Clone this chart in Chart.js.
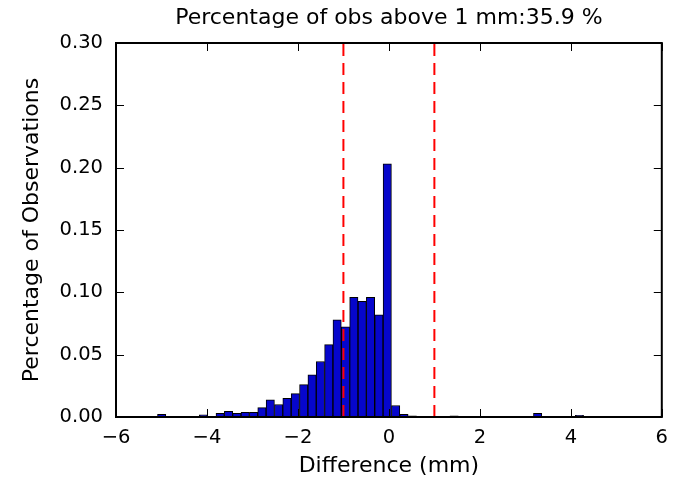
<!DOCTYPE html>
<html>
<head>
<meta charset="utf-8">
<script src="https://cdn.jsdelivr.net/npm/chart.js@4/dist/chart.umd.min.js"></script>
<style>
  html, body { margin: 0; padding: 0; background: #fff; }
  #wrap { width: 677px; height: 483px; }
</style>
</head>
<body>
<div id="wrap"><canvas id="c" width="677" height="483"></canvas></div>
<script>
// Bin centers (mm) of the histogram
const binCenters = [
  -4.996, -4.812, -4.629, -4.445, -4.261, -4.078, -3.894, -3.710, -3.526, -3.343,
  -3.159, -2.975, -2.792, -2.608, -2.424, -2.241, -2.057, -1.873, -1.689, -1.506,
  -1.322, -1.138, -0.955, -0.771, -0.587, -0.404, -0.220, -0.036, 0.148, 0.331,
  0.515, 0.699, 0.882, 1.066, 1.250, 1.434, 1.617, 1.801, 1.985, 2.168,
  2.352, 2.536, 2.719, 2.903, 3.087, 3.270, 3.454, 3.638, 3.821, 4.005,
  4.189
];
// Fraction of observations per bin
const fractions = [
  0.0022, 0, 0, 0, 0, 0.0018, 0, 0.0030, 0.0046, 0.0030,
  0.0038, 0.0038, 0.0075, 0.0137, 0.0100, 0.0150, 0.0187, 0.0260, 0.0338, 0.0445,
  0.0580, 0.0780, 0.0724, 0.0960, 0.0928, 0.0960, 0.0820, 0.2030, 0.0092, 0.0022,
  0.0010, 0, 0, 0, 0, 0.0010, 0, 0, 0, 0,
  0, 0, 0, 0, 0, 0.0030, 0, 0, 0, 0,
  0.0013
];
// Reference threshold lines (mm)
const thresholdLines = [-1, 1];
const xTicks = { min: -6, max: 6, step: 2 };
const yTicks = { min: 0, max: 0.30, step: 0.05 };
const titleText = 'Percentage of obs above 1 mm:35.9 %';
const xLabel = 'Difference (mm)';
const yLabel = 'Percentage of Observations';

const FONT = 'DejaVu Sans';
const LABEL_SIZE = 22;
const TICK_SIZE = 19.5;

const barData = binCenters.map((x, i) => ({ x: x, y: fractions[i] }));
const lineSets = thresholdLines.map(v => ({
  type: 'line',
  xAxisID: 'x',
  data: [{ x: v, y: yTicks.min }, { x: v, y: yTicks.max }],
  borderColor: '#ff0000',
  borderWidth: 2,
  borderDash: [12, 7],
  pointRadius: 0,
  fill: false,
  order: 0
}));

const frameTicks = {
  id: 'frameTicks',
  afterDraw(chart) {
    const ctx = chart.ctx;
    const a = chart.chartArea;
    const xs = chart.scales.x, ys = chart.scales.y;
    ctx.save();
    ctx.strokeStyle = '#000';
    ctx.lineWidth = 1;
    const L = 8;
    xs.ticks.forEach(t => {
      const px = Math.round(xs.getPixelForValue(t.value)) + 0.5;
      ctx.beginPath();
      ctx.moveTo(px, a.bottom); ctx.lineTo(px, a.bottom - L);
      ctx.moveTo(px, a.top); ctx.lineTo(px, a.top + L);
      ctx.stroke();
    });
    ys.ticks.forEach(t => {
      const py = Math.round(ys.getPixelForValue(t.value)) + 0.5;
      ctx.beginPath();
      ctx.moveTo(a.left, py); ctx.lineTo(a.left + L, py);
      ctx.moveTo(a.right, py); ctx.lineTo(a.right - L, py);
      ctx.stroke();
    });
    ctx.lineWidth = 2;
    ctx.strokeRect(a.left, a.top, a.right - a.left, a.bottom - a.top);
    ctx.restore();
  }
};

new Chart(document.getElementById('c'), {
  type: 'bar',
  data: {
    datasets: [
      ...lineSets,
      {
        type: 'bar',
        xAxisID: 'x',
        data: barData,
        backgroundColor: '#0606cc',
        borderColor: '#000000',
        borderWidth: 1,
        borderSkipped: false,
        barPercentage: 1.0,
        categoryPercentage: 1.0,
        order: 1
      }
    ]
  },
  options: {
    responsive: false,
    animation: false,
    layout: { padding: { left: 0, right: 11, top: 0, bottom: 0 } },
    plugins: {
      legend: { display: false },
      tooltip: { enabled: false },
      title: { display: false }
    },
    scales: {
      x: {
        type: 'linear',
        position: 'bottom',
        offset: false,
        min: xTicks.min, max: xTicks.max,
        grid: { display: false, drawTicks: false, offset: false },
        border: { display: false },
        ticks: {
          stepSize: xTicks.step,
          padding: 9,
          color: '#000',
          font: { family: FONT, size: TICK_SIZE },
          maxRotation: 0,
          callback: v => (v < 0 ? '\u2212' + Math.abs(v) : String(v))
        },
        title: {
          display: true, text: xLabel, color: '#000',
          font: { family: FONT, size: LABEL_SIZE },
          padding: { top: 4, bottom: 4 }
        },
        afterFit: s => { s.height = 66; }
      },
      xTop: {
        type: 'linear',
        position: 'top',
        offset: false,
        min: xTicks.min, max: xTicks.max,
        grid: { display: false, drawTicks: false },
        border: { display: false },
        ticks: { display: false },
        title: {
          display: true, text: titleText, color: '#000',
          font: { family: FONT, size: LABEL_SIZE },
          padding: { top: 5, bottom: 5 }
        },
        afterFit: s => { s.height = 43; }
      },
      y: {
        type: 'linear',
        min: yTicks.min, max: yTicks.max,
        grid: { display: false, drawTicks: false },
        border: { display: false },
        ticks: {
          stepSize: yTicks.step,
          padding: 13,
          color: '#000',
          font: { family: FONT, size: TICK_SIZE },
          callback: v => Number(v).toFixed(2)
        },
        title: {
          display: true, text: yLabel, color: '#000',
          font: { family: FONT, size: LABEL_SIZE },
          padding: { top: 19, bottom: 19 }
        },
        afterFit: s => { s.width = 116; }
      }
    }
  },
  plugins: [frameTicks]
});
</script>
</body>
</html>
